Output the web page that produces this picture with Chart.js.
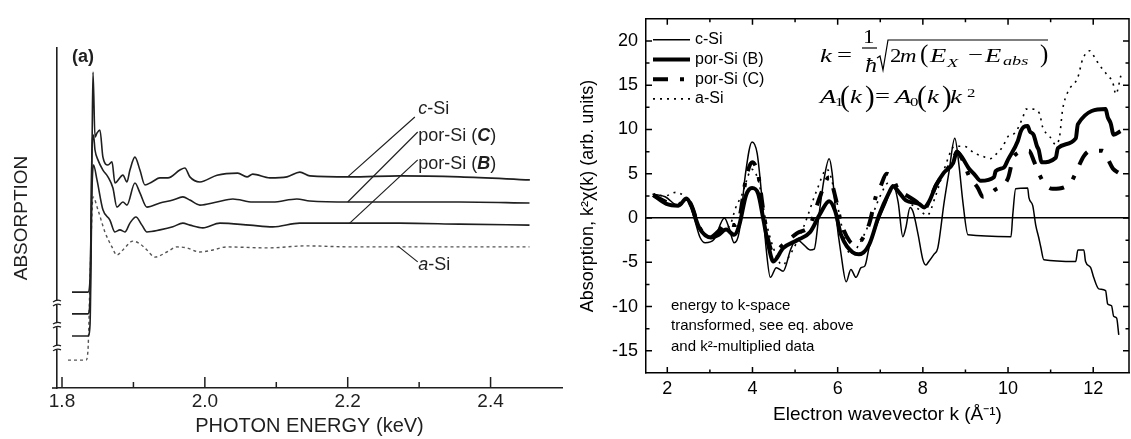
<!DOCTYPE html>
<html>
<head>
<meta charset="utf-8">
<script src="https://cdn.jsdelivr.net/npm/chart.js@4.4.1/dist/chart.umd.min.js"></script>
<style>
    html, body { margin: 0; padding: 0; background: #fff; }
    #wrap { position: relative; width: 1131px; height: 439px; }
    #absorptionChart { position: absolute; left: 0; top: 0; }
    #kspaceChart { position: absolute; left: 575px; top: 0; }
</style>
</head>
<body>
<div id="wrap">
    <canvas id="absorptionChart" width="575" height="439"></canvas>
    <canvas id="kspaceChart" width="556" height="439"></canvas>
</div>
<script>
// ---- Panel (a): absorption vs photon energy (keV), curves offset, arbitrary units ----
const energyTicks = [1.8, 2.0, 2.2, 2.4];
const energyMinorTicks = [1.9, 2.1, 2.3];

const cSiEnergy = [1.814, 1.8364, 1.8392, 1.842, 1.8434, 1.8462, 1.849, 1.8531, 1.8573, 1.8643, 1.870, 1.8741, 1.8853, 1.8909, 1.8951, 1.9021, 1.9091, 1.9161, 1.9259, 1.9371, 1.9483, 1.965, 1.972, 1.979, 1.993, 2.017, 2.046, 2.059, 2.067, 2.091, 2.115, 2.133, 2.147, 2.203, 2.273, 2.357, 2.455];
const cSiAbs = [28.2, 28.2, 31.8, 70, 92.9, 73.8, 75, 75.9, 67.9, 65.6, 66.5, 60.3, 62.6, 60.6, 64.1, 67.9, 64.1, 59.7, 60.6, 61.8, 61.8, 64.1, 64.7, 62.1, 60.6, 62.6, 63.2, 62.1, 62.9, 61.8, 62.1, 63.5, 62.4, 62.1, 62.4, 62.1, 61.2];

const porCEnergy = [1.814, 1.8364, 1.8392, 1.842, 1.8441, 1.8462, 1.8503, 1.8573, 1.8643, 1.8713, 1.8769, 1.8853, 1.8909, 1.9021, 1.9091, 1.9189, 1.9371, 1.9552, 1.9692, 1.979, 1.993, 2.0168, 2.0392, 2.0671, 2.095, 2.1287, 2.1469, 2.2028, 2.2727, 2.3566, 2.4545];
const porCAbs = [21.8, 21.8, 25.9, 70, 74.4, 70, 67.1, 64.1, 62.1, 58.8, 53.2, 54.7, 53.8, 60.3, 57.4, 53.2, 54.4, 55.3, 56.2, 55.3, 53.8, 54.7, 55.6, 54.7, 54.7, 55.6, 55.0, 54.7, 54.7, 54.7, 54.4];

const porBEnergy = [1.814, 1.8364, 1.8392, 1.842, 1.8441, 1.849, 1.8573, 1.8671, 1.8741, 1.8811, 1.8881, 1.8951, 1.9035, 1.9119, 1.9189, 1.9371, 1.9552, 1.9692, 1.979, 1.9972, 2.021, 2.063, 2.0951, 2.1329, 2.2028, 2.2727, 2.3566, 2.4545];
const porBAbs = [15.3, 15.3, 18.5, 58.2, 65.6, 61.2, 52.4, 49.4, 45.9, 46.5, 45.9, 48.5, 50.3, 47.9, 45.9, 46.5, 47.4, 48.5, 47.9, 47.1, 48.5, 47.9, 47.4, 48.5, 48.5, 48.5, 48.2, 47.9];

const aSiEnergy = [1.8084, 1.8336, 1.8364, 1.8392, 1.8434, 1.8503, 1.8601, 1.8699, 1.8769, 1.8853, 1.8993, 1.9091, 1.9189, 1.9301, 1.9469, 1.9608, 1.9748, 1.993, 2.0112, 2.0308, 2.0867, 2.1427, 2.2028, 2.2727, 2.3566, 2.4545];
const aSiAbs = [8.2, 8.2, 11.2, 31.8, 56.2, 52.4, 45.9, 41.5, 39.1, 40.6, 43.2, 42.4, 40.6, 38.5, 40.0, 41.5, 41.2, 40.0, 40.6, 41.5, 41.2, 41.8, 41.5, 41.5, 41.5, 41.5];

// ---- Panel (b): k^2-weighted absorption vs electron wavevector k ----
const kTicks = [2, 4, 6, 8, 10, 12];
const kMinorTicks = [3, 5, 7, 9, 11];
const chiTicks = [-15, -10, -5, 0, 5, 10, 15, 20];
const chiMinorTicks = [-12.5, -7.5, -2.5, 2.5, 7.5, 12.5, 17.5];

const cSiK = [1.65, 1.95, 2.26, 2.40, 2.49, 2.63, 2.77, 2.89, 3.10, 3.34, 3.45, 3.57, 3.69, 3.83, 3.99, 4.11, 4.23, 4.32, 4.42, 4.56, 4.72, 4.90, 5.03, 5.20, 5.35, 5.45, 5.56, 5.68, 5.80, 5.87, 5.96, 6.08, 6.20, 6.31, 6.43, 6.55, 6.64, 6.74, 6.95, 7.14, 7.30, 7.42, 7.53, 7.60, 7.70, 7.77, 7.89, 8.00, 8.07, 8.14, 8.26, 8.35, 8.50, 8.61, 8.75, 8.85, 8.94, 9.06, 10.07, 10.11, 10.18, 10.46, 10.49, 10.58, 10.65, 10.72, 10.77, 10.84, 11.59, 11.64, 11.78, 11.82, 11.94, 12.01, 12.13, 12.29, 12.34, 12.43, 12.48, 12.55, 12.60];
const cSiChi = [2.7, 2.4, 1.4, 2.0, 2.0, 0, -2.2, -2.8, -2.4, 0, -1.1, -2.8, -1.5, 4.8, 8.6, 7.3, 1.8, -3.4, -6.7, -5.6, -6.0, -3.5, -2.4, -3.0, -3.6, -3.5, 0.3, 4.4, 6.7, 5.1, 0.3, -4.1, -7.2, -5.8, -6.7, -5.6, -5.4, -3.3, -0.4, 1.8, 3.7, 1.8, -2.1, -1.1, 1.2, 0.7, -1.9, -4.7, -5.3, -4.9, -4.1, -3.4, 1.8, 5.1, 9.0, 5.9, 1.8, -1.9, -2.1, 0.3, 3.3, 3.4, 2.3, 1.4, -0.8, -2.2, -3.3, -4.7, -4.9, -3.6, -3.6, -4.9, -5.6, -6.7, -8.0, -8.2, -9.7, -9.9, -11.1, -11.3, -13.2];

const porBK = [1.67, 1.98, 2.26, 2.45, 2.56, 2.75, 3.03, 3.20, 3.38, 3.57, 3.69, 3.85, 3.99, 4.13, 4.25, 4.37, 4.49, 4.72, 5.05, 5.35, 5.59, 5.80, 5.94, 6.08, 6.36, 6.50, 6.74, 6.97, 7.21, 7.30, 7.44, 7.60, 7.91, 8.03, 8.14, 8.31, 8.49, 8.71, 8.80, 8.94, 9.08, 9.20, 9.36, 9.67, 9.71, 9.90, 10.00, 10.23, 10.30, 10.37, 10.46, 10.51, 10.60, 10.68, 10.72, 10.79, 11.12, 11.17, 11.59, 11.64, 12.29, 12.34, 12.41, 12.48, 12.64];
const porBChi = [2.6, 1.6, 1.4, 2.2, 1.4, -1.1, -2.2, -1.9, -1.3, -1.9, -0.8, 2.6, 3.4, 2.8, 0, -3.0, -4.9, -3.4, -2.5, -1.6, 0.5, 1.9, 0.8, -1.9, -3.9, -4.1, -3.0, 0.3, 2.9, 3.6, 2.9, 2.0, 1.6, 1.2, 1.8, 3.7, 5.1, 6.2, 7.5, 6.7, 5.6, 5.0, 4.2, 4.6, 5.3, 5.7, 6.6, 8.7, 9.8, 10.3, 10.4, 9.8, 9.4, 8.1, 7.7, 6.3, 6.8, 7.9, 9.0, 10.6, 12.3, 11.4, 10.7, 9.4, 9.8];

const porCK = [1.67, 1.98, 2.26, 2.45, 2.56, 2.75, 3.00, 3.20, 3.38, 3.57, 3.69, 3.85, 3.99, 4.13, 4.25, 4.37, 4.49, 4.72, 5.05, 5.35, 5.59, 5.80, 5.94, 6.08, 6.28, 6.43, 6.60, 6.75, 6.90, 7.00, 7.15, 7.30, 7.44, 7.60, 7.91, 8.03, 8.14, 8.31, 8.49, 8.71, 8.80, 8.94, 9.08, 9.29, 9.41, 9.70, 10.00, 10.14, 10.49, 10.61, 10.70, 10.84, 11.05, 11.47, 11.59, 11.78, 11.94, 12.22, 12.34, 12.46, 12.60];
const porCChi = [2.6, 1.8, 1.5, 2.2, 1.5, -1.0, -2.2, -1.5, -0.6, -0.8, 0.0, 4.5, 6.3, 5.0, 1.0, -2.5, -3.9, -3.0, -1.7, -0.8, 2.5, 4.6, 2.5, -0.5, -2.6, -3.0, -2.2, -0.5, 2.5, 3.5, 5.0, 4.4, 3.0, 2.6, 1.6, 1.0, 1.8, 3.7, 5.0, 6.5, 7.5, 6.5, 4.8, 3.4, 2.4, 3.2, 4.5, 7.0, 7.6, 6.4, 5.3, 4.0, 3.3, 4.0, 5.1, 7.0, 7.6, 7.6, 6.7, 5.6, 5.1];

const aSiK = [1.67, 1.95, 2.20, 2.45, 2.60, 2.80, 3.00, 3.30, 3.50, 3.60, 3.75, 3.99, 4.15, 4.30, 4.50, 4.70, 4.90, 5.20, 5.50, 5.75, 5.95, 6.10, 6.30, 6.50, 6.75, 7.00, 7.20, 7.40, 7.60, 7.90, 8.10, 8.30, 8.50, 8.75, 8.97, 9.22, 9.39, 9.58, 9.74, 9.88, 10.00, 10.16, 10.35, 10.42, 10.58, 10.74, 10.81, 10.98, 11.12, 11.21, 11.28, 11.40, 11.64, 11.75, 11.92, 12.06, 12.22, 12.34, 12.46, 12.53, 12.65];
const aSiChi = [2.7, 2.5, 2.9, 2.2, 1.0, -1.5, -2.3, -1.5, -0.5, 1.1, 2.6, 5.5, 4.0, 0.0, -3.5, -5.3, -4.0, -1.0, 3.0, 5.5, 2.5, -1.0, -4.1, -3.0, -0.5, 2.5, 4.0, 3.0, 2.0, 1.0, 0.3, 2.5, 5.5, 8.1, 8.1, 7.3, 7.0, 6.7, 7.3, 8.1, 9.2, 9.6, 11.4, 12.3, 12.3, 11.8, 10.3, 9.2, 8.3, 9.2, 12.2, 14.2, 15.9, 17.9, 18.9, 17.9, 16.8, 16.1, 15.3, 14.0, 16.1];

const SANS = '"Liberation Sans", Arial, sans-serif';
const SERIF = '"Liberation Serif", "Times New Roman", serif';
const INK = '#1f1f1f';

const toPoints = (xs, ys) => xs.map((x, i) => ({ x, y: ys[i] }));

// draws a run of differently styled text pieces one after another
function drawRun(ctx, x, y, parts) {
    parts.forEach(([text, font]) => {
        ctx.font = font;
        ctx.fillText(text, x, y);
        x += ctx.measureText(text).width;
    });
}

// Left panel decorations: inner ticks, axis breaks, curve labels
const absorptionDecor = {
    id: 'absorptionDecor',
    afterDraw(chart) {
        const { ctx, chartArea: a, scales: { x, y } } = chart;
        ctx.save();
        ctx.strokeStyle = INK;
        ctx.lineWidth = 1.6;

        // x-axis sticks out a little left of the y-axis
        ctx.beginPath();
        ctx.moveTo(a.left - 5, a.bottom);
        ctx.lineTo(a.left, a.bottom);
        ctx.stroke();

        ctx.lineWidth = 1.5;
        energyTicks.forEach(v => {
            const px = x.getPixelForValue(v);
            ctx.beginPath(); ctx.moveTo(px, a.bottom); ctx.lineTo(px, a.bottom - 11); ctx.stroke();
        });
        energyMinorTicks.forEach(v => {
            const px = x.getPixelForValue(v);
            ctx.beginPath(); ctx.moveTo(px, a.bottom); ctx.lineTo(px, a.bottom - 6); ctx.stroke();
        });

        // axis break marks
        [25, 18.5, 11.8].forEach(v => {
            const py = y.getPixelForValue(v);
            ctx.fillStyle = '#fff';
            ctx.fillRect(a.left - 5, py - 2, 10, 4);
            ctx.lineWidth = 1.2;
            [-2, 2].forEach(d => {
                ctx.beginPath();
                ctx.moveTo(a.left - 4, py + d + 1);
                ctx.quadraticCurveTo(a.left, py + d - 2, a.left + 4, py + d);
                ctx.stroke();
            });
        });

        // leader lines from curves to labels
        ctx.lineWidth = 1.2;
        const leaders = [
            [2.2, 62.1, 2.294, 79.7],
            [2.2, 54.7, 2.298, 75.3],
            [2.2028, 48.5, 2.298, 67.1],
            [2.27, 41.8, 2.298, 37.1]
        ];
        leaders.forEach(([x1, y1, x2, y2]) => {
            ctx.beginPath();
            ctx.moveTo(x.getPixelForValue(x1), y.getPixelForValue(y1));
            ctx.lineTo(x.getPixelForValue(x2), y.getPixelForValue(y2));
            ctx.stroke();
        });

        ctx.fillStyle = INK;
        ctx.textBaseline = 'middle';
        const reg = `18px ${SANS}`;
        const it = `italic 18px ${SANS}`;
        const bi = `italic bold 18px ${SANS}`;
        const lx = x.getPixelForValue(2.3) - 1;
        drawRun(ctx, lx, y.getPixelForValue(82.1), [['c', it], ['-Si', reg]]);
        drawRun(ctx, lx, y.getPixelForValue(74.1), [['por-Si (', reg], ['C', bi], [')', reg]]);
        drawRun(ctx, lx, y.getPixelForValue(65.9), [['por-Si (', reg], ['B', bi], [')', reg]]);
        drawRun(ctx, lx, y.getPixelForValue(36.2), [['a', it], ['-Si', reg]]);

        ctx.font = `bold 18px ${SANS}`;
        ctx.fillText('(a)', a.left + 15, a.top + 9);
        ctx.restore();
    }
};

// Right panel decorations: box, inner ticks, legend, formula and note
const kspaceDecor = {
    id: 'kspaceDecor',
    afterDraw(chart) {
        const { ctx, chartArea: a, scales: { x, y } } = chart;
        ctx.save();
        ctx.strokeStyle = '#000';
        ctx.lineWidth = 1.5;
        ctx.beginPath();
        ctx.moveTo(a.left, a.top); ctx.lineTo(a.right, a.top); ctx.lineTo(a.right, a.bottom);
        ctx.stroke();

        const xTick = (v, len) => {
            const px = x.getPixelForValue(v);
            ctx.beginPath();
            ctx.moveTo(px, a.bottom); ctx.lineTo(px, a.bottom - len);
            ctx.moveTo(px, a.top); ctx.lineTo(px, a.top + len);
            ctx.stroke();
        };
        const yTick = (v, len) => {
            const py = y.getPixelForValue(v);
            ctx.beginPath();
            ctx.moveTo(a.left, py); ctx.lineTo(a.left + len, py);
            ctx.moveTo(a.right, py); ctx.lineTo(a.right - len, py);
            ctx.stroke();
        };
        kTicks.forEach(v => xTick(v, 6));
        kMinorTicks.forEach(v => xTick(v, 3.5));
        chiTicks.forEach(v => yTick(v, 6));
        chiMinorTicks.forEach(v => yTick(v, 3.5));

        // legend, top-left inside the frame
        ctx.fillStyle = '#000';
        ctx.textBaseline = 'middle';
        ctx.font = `16px ${SANS}`;
        chart.data.datasets.forEach((ds, i) => {
            const ly = a.top + 21 + i * 19.7;
            ctx.save();
            ctx.lineWidth = ds.borderWidth;
            ctx.setLineDash(ds.borderDash || []);
            ctx.beginPath();
            ctx.moveTo(a.left + 7, ly); ctx.lineTo(a.left + 44, ly);
            ctx.stroke();
            ctx.restore();
            ctx.fillText(ds.label, a.left + 49, ly);
        });

        // note at the lower left
        ctx.font = `15px ${SANS}`;
        ctx.fillText('energy to k-space', a.left + 25, 306);
        ctx.fillText('transformed, see eq. above', a.left + 25, 326);
        ctx.fillText('and k²-multiplied data', a.left + 25, 347);

        // equation typeset piece by piece (stretched serif, like the pasted original)
        ctx.textBaseline = 'alphabetic';
        const put = (t, font, px, py, sx = 1.4) => {
            ctx.save();
            ctx.font = font;
            ctx.translate(px, py);
            ctx.scale(sx, 1);
            ctx.fillText(t, 0, 0);
            ctx.restore();
        };
        const fi = `italic 19px ${SERIF}`;
        const fr = `19px ${SERIF}`;
        const sub = `italic 13px ${SERIF}`;

        // k = (1/ħ) sqrt(2m(E_X - E_abs))
        put('k', fi, 245, 62);
        put('=', fr, 262, 61);
        put('1', fr, 288, 43, 1.2);
        put('ħ', `italic 20px ${SERIF}`, 290, 72, 1.2);
        ctx.lineWidth = 1.2;
        ctx.beginPath(); ctx.moveTo(287, 48); ctx.lineTo(302, 48); ctx.stroke();
        ctx.beginPath();
        ctx.moveTo(302, 58); ctx.lineTo(305, 56); ctx.lineTo(308, 70); ctx.lineTo(313, 40); ctx.lineTo(473, 40);
        ctx.stroke();
        put('2', fr, 315, 62, 1.2);
        put('m', fi, 325, 62, 1.2);
        put('(', `25px ${SERIF}`, 345, 62, 1);
        put('E', fi, 355, 62);
        put('X', sub, 372, 67);
        put('−', fr, 393, 61);
        put('E', fi, 410, 62);
        put('abs', sub, 428, 65);
        put(')', `25px ${SERIF}`, 465, 62, 1);

        // A1(k) = A0(k) k^2
        put('A', fi, 245, 103);
        put('1', `12px ${SERIF}`, 260, 106);
        put('(', `29px ${SERIF}`, 265, 106, 1);
        put('k', fi, 275, 103);
        put(')', `29px ${SERIF}`, 290, 106, 1);
        put('=', fr, 300, 102);
        put('A', fi, 320, 103);
        put('0', `12px ${SERIF}`, 335, 106);
        put('(', `29px ${SERIF}`, 342, 106, 1);
        put('k', fi, 352, 103);
        put(')', `29px ${SERIF}`, 367, 106, 1);
        put('k', fi, 375, 103);
        put('2', `12px ${SERIF}`, 392, 97);
        ctx.restore();
    }
};

const commonElements = {
    point: { radius: 0 },
    line: { fill: false, cubicInterpolationMode: 'monotone' }
};

new Chart(document.getElementById('absorptionChart'), {
    type: 'line',
    data: {
        datasets: [
            { label: 'c-Si', data: toPoints(cSiEnergy, cSiAbs), borderColor: INK, borderWidth: 1.6 },
            { label: 'por-Si (C)', data: toPoints(porCEnergy, porCAbs), borderColor: INK, borderWidth: 1.6 },
            { label: 'por-Si (B)', data: toPoints(porBEnergy, porBAbs), borderColor: INK, borderWidth: 1.6 },
            { label: 'a-Si', data: toPoints(aSiEnergy, aSiAbs), borderColor: '#555', borderWidth: 1.4, borderDash: [3, 3] }
        ]
    },
    options: {
        responsive: false,
        animation: false,
        layout: { padding: { left: 0, right: 13, top: 48, bottom: 0 } },
        elements: commonElements,
        plugins: { legend: { display: false }, tooltip: { enabled: false } },
        scales: {
            x: {
                type: 'linear', min: 1.793, max: 2.5,
                afterFit: s => { s.height = 51; },
                afterBuildTicks: s => { s.ticks = energyTicks.map(v => ({ value: v })); },
                grid: { display: false, drawTicks: false },
                border: { display: true, color: INK, width: 1.6 },
                ticks: { padding: 2, color: INK, font: { family: SANS, size: 19 }, callback: v => v.toFixed(1) },
                title: { display: true, text: 'PHOTON ENERGY (keV)', color: INK, font: { family: SANS, size: 20 }, padding: { top: 0, bottom: 1 } }
            },
            y: {
                type: 'linear', min: 0, max: 100,
                afterFit: s => { s.width = 57; },
                grid: { display: false, drawTicks: false },
                border: { display: true, color: INK, width: 1.6 },
                ticks: { display: false },
                title: { display: true, text: 'ABSORPTION', color: INK, font: { family: SANS, size: 19 }, padding: { top: 10, bottom: 0 } }
            }
        }
    },
    plugins: [absorptionDecor]
});

new Chart(document.getElementById('kspaceChart'), {
    type: 'line',
    data: {
        datasets: [
            { label: 'c-Si', data: toPoints(cSiK, cSiChi), borderColor: '#000', borderWidth: 1.5 },
            { label: 'por-Si (B)', data: toPoints(porBK, porBChi), borderColor: '#000', borderWidth: 4 },
            { label: 'por-Si (C)', data: toPoints(porCK, porCChi), borderColor: '#000', borderWidth: 4, borderDash: [15, 12, 4, 12] },
            { label: 'a-Si', data: toPoints(aSiK, aSiChi), borderColor: '#000', borderWidth: 1.6, borderDash: [2, 5] }
        ]
    },
    options: {
        responsive: false,
        animation: false,
        layout: { padding: { left: 0, right: 2, top: 13, bottom: 0 } },
        elements: commonElements,
        plugins: { legend: { display: false }, tooltip: { enabled: false } },
        scales: {
            x: {
                type: 'linear', min: 1.5, max: 12.84,
                afterFit: s => { s.height = 66; },
                afterBuildTicks: s => { s.ticks = kTicks.map(v => ({ value: v })); },
                grid: { display: false, drawTicks: false },
                border: { display: true, color: '#000', width: 1.5 },
                ticks: { padding: 5, color: '#000', font: { family: SANS, size: 18 } },
                title: { display: true, text: 'Electron wavevector k (Å⁻¹)', color: '#000', font: { family: SANS, size: 19 }, padding: { top: 0, bottom: 13 } }
            },
            y: {
                type: 'linear', min: -17.5, max: 22.5,
                afterFit: s => { s.width = 71; },
                afterBuildTicks: s => { s.ticks = chiTicks.map(v => ({ value: v })); },
                grid: {
                    drawTicks: false,
                    lineWidth: 1.5,
                    color: c => (c.tick && c.tick.value === 0 ? '#000' : 'rgba(0,0,0,0)')
                },
                border: { display: true, color: '#000', width: 1.5 },
                ticks: { padding: 8, color: '#000', font: { family: SANS, size: 18 } },
                title: { display: true, text: 'Absorption, k²χ(k) (arb. units)', color: '#000', font: { family: SANS, size: 18 }, padding: { top: 2, bottom: 0 } }
            }
        }
    },
    plugins: [kspaceDecor]
});
</script>
</body>
</html>
